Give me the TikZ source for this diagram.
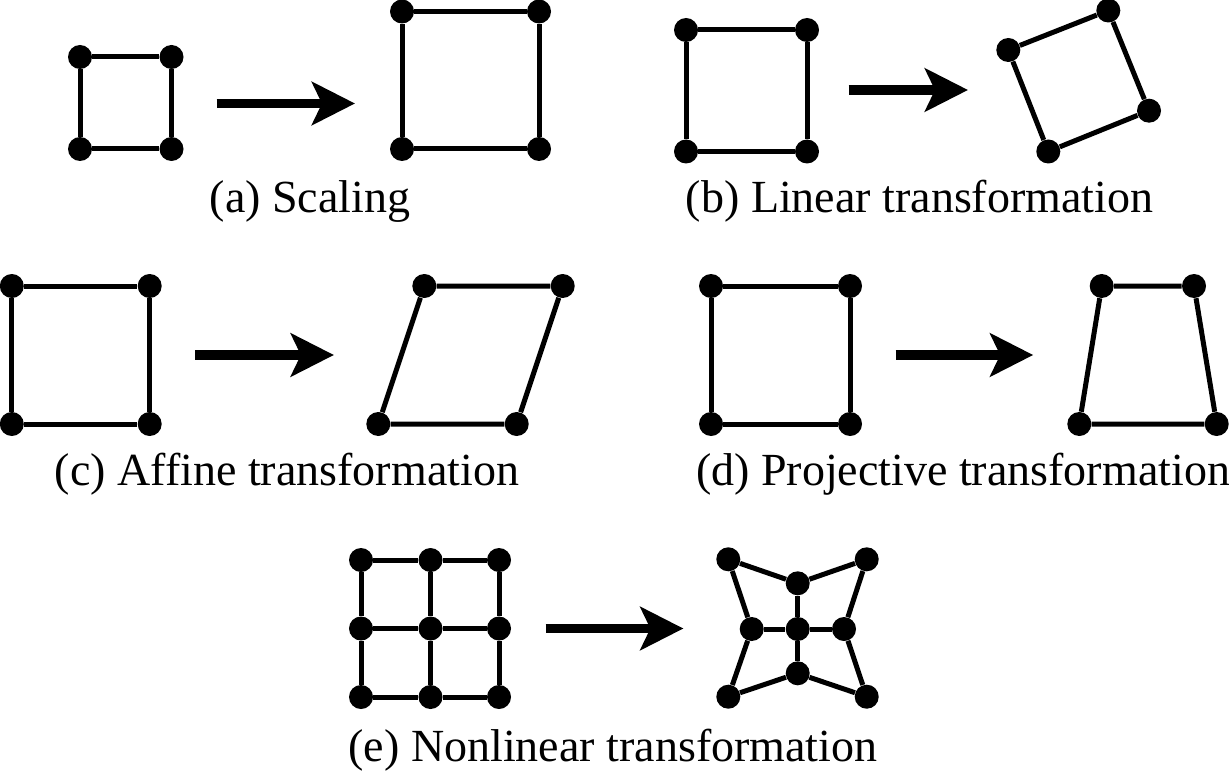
\documentclass[tikz,border=0pt]{standalone}
\usepackage{fontspec}
\setmainfont{Liberation Serif}
\usetikzlibrary{arrows.meta}
\tikzset{
  dot/.style={circle, fill=black, inner sep=0pt, minimum size=12pt},
  edge/.style={line width=2.5pt},
  bigarrow/.style={line width=4.7pt, -{Stealth[length=21.5pt, width=21.5pt, inset=5pt]}},
  caption/.style={anchor=base, font=\fontsize{23pt}{27pt}\selectfont, inner sep=0pt}
}
\begin{document}
\begin{tikzpicture}[x=0.5pt, y=-0.5pt]
\useasboundingbox (0,0) rectangle (1229,770);
% (a) Scaling
\node[dot] (a1) at (80,57) {};
\node[dot] (a2) at (171.5,57) {};
\node[dot] (a3) at (80,149) {};
\node[dot] (a4) at (171.5,149) {};
\draw[edge] (a1) -- (a2) -- (a4) -- (a3) -- (a1);
\coordinate (as) at (216.7,103.5);
\coordinate (ae) at (355,103.5);
\draw[bigarrow] (as) -- (ae);
\node[dot] (A1) at (402,11.5) {};
\node[dot] (A2) at (539,11.5) {};
\node[dot] (A3) at (402,149) {};
\node[dot] (A4) at (539,149) {};
\draw[edge] (A1) -- (A2) -- (A4) -- (A3) -- (A1);
\node[caption] (capa) at (310,213) {(a) Scaling};
% (b) Linear
\node[dot] (b1) at (686,30) {};
\node[dot] (b2) at (807,30) {};
\node[dot] (b3) at (686,151.5) {};
\node[dot] (b4) at (807,151.5) {};
\draw[edge] (b1) -- (b2) -- (b4) -- (b3) -- (b1);
\coordinate (bs) at (848.5,90);
\coordinate (be) at (968,90);
\draw[bigarrow] (bs) -- (be);
\node[dot] (B1) at (1008.3,50) {};
\node[dot] (B2) at (1108.3,10.5) {};
\node[dot] (B3) at (1149,110.7) {};
\node[dot] (B4) at (1048.3,151.5) {};
\draw[edge] (B1) -- (B2) -- (B3) -- (B4) -- (B1);
\node[caption] (capb) at (919.6,213) {(b) Linear transformation};
% (c) Affine
\node[dot] (c1) at (11.8,286) {};
\node[dot] (c2) at (149.7,286) {};
\node[dot] (c3) at (11.8,424) {};
\node[dot] (c4) at (149.7,424) {};
\draw[edge] (c1) -- (c2) -- (c4) -- (c3) -- (c1);
\coordinate (cs) at (195.2,355);
\coordinate (ce) at (333.9,355);
\draw[bigarrow] (cs) -- (ce);
\node[dot] (C1) at (424.3,286) {};
\node[dot] (C2) at (562.7,286) {};
\node[dot] (C3) at (378.3,424) {};
\node[dot] (C4) at (516.7,424) {};
\draw[edge] (C1) -- (C2) -- (C4) -- (C3) -- (C1);
\node[caption] (capc) at (287,485) {(c) Affine transformation};
% (d) Projective
\node[dot] (d1) at (711,286) {};
\node[dot] (d2) at (850,286) {};
\node[dot] (d3) at (711,424) {};
\node[dot] (d4) at (850,424) {};
\draw[edge] (d1) -- (d2) -- (d4) -- (d3) -- (d1);
\coordinate (ds) at (895.5,355);
\coordinate (de) at (1033.2,355);
\draw[bigarrow] (ds) -- (de);
\node[dot] (D1) at (1101.7,286) {};
\node[dot] (D2) at (1194,286) {};
\node[dot] (D3) at (1079.3,424) {};
\node[dot] (D4) at (1216.7,424) {};
\draw[edge] (D1) -- (D2) -- (D4) -- (D3) -- (D1);
\node[caption] (capd) at (963,485) {(d) Projective transformation};
% (e) Nonlinear
\foreach \i/\x in {1/361,2/430.5,3/499}{
  \foreach \j/\y in {1/560,2/628.5,3/697}{
    \node[dot] (e\i\j) at (\x,\y) {};
  }
}
\draw[edge] (e11) -- (e21) -- (e31);
\draw[edge] (e12) -- (e22) -- (e32);
\draw[edge] (e13) -- (e23) -- (e33);
\draw[edge] (e11) -- (e12) -- (e13);
\draw[edge] (e21) -- (e22) -- (e23);
\draw[edge] (e31) -- (e32) -- (e33);
\coordinate (es) at (545.5,628.5);
\coordinate (ee) at (683.4,628.5);
\draw[bigarrow] (es) -- (ee);
\node[dot] (TL) at (728.3,559.3) {};
\node[dot] (TR) at (866.7,559.3) {};
\node[dot] (TM) at (797.7,583.3) {};
\node[dot] (LM) at (751.7,629) {};
\node[dot] (CC) at (797.7,629) {};
\node[dot] (RM) at (844,629) {};
\node[dot] (BM) at (797.7,673.3) {};
\node[dot] (BL) at (728.3,696.7) {};
\node[dot] (BR) at (866.7,696.7) {};
\draw[edge] (TL) -- (TM) -- (TR);
\draw[edge] (LM) -- (CC) -- (RM);
\draw[edge] (BL) -- (BM) -- (BR);
\draw[edge] (TL) -- (LM) -- (BL);
\draw[edge] (TM) -- (CC) -- (BM);
\draw[edge] (TR) -- (RM) -- (BR);
\node[caption] (cape) at (613,761) {(e) Nonlinear transformation};
\end{tikzpicture}
\end{document}
